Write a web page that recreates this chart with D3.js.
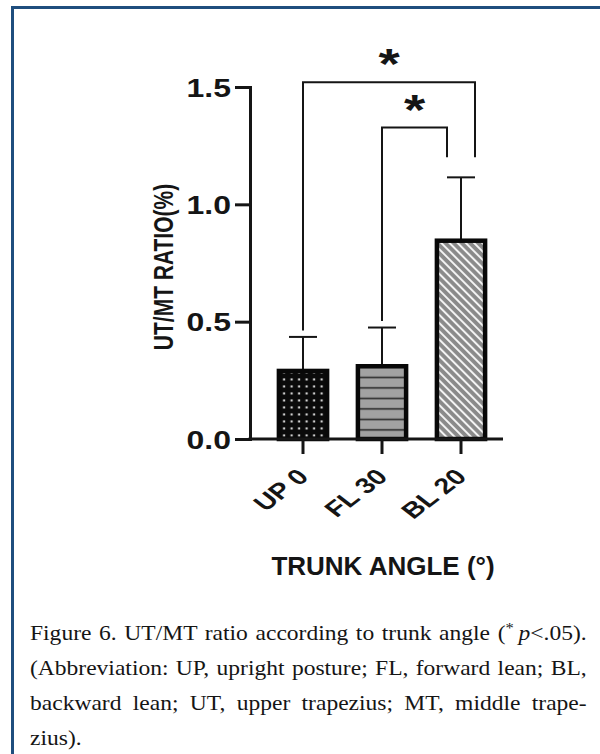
<!DOCTYPE html>
<html><head><meta charset="utf-8">
<script src="https://cdn.jsdelivr.net/npm/d3@7"></script>
<style>
body{margin:0;background:#fff;}
#wrap{position:relative;width:600px;height:754px;overflow:hidden;background:#fff;}
#chart{position:absolute;left:0;top:0;}
.cap{position:absolute;left:30px;font-family:"Liberation Serif","Times New Roman",serif;font-size:21px;color:#151515;transform-origin:0 0;transform:scaleX(1.12);width:497px;text-align:justify;text-align-last:justify;line-height:21px;white-space:nowrap;}
.cap.last{text-align-last:left;}
sup{font-size:0.7em;vertical-align:0.45em;line-height:0;}
</style></head><body>
<div id="wrap"><svg id="chart" width="600" height="754"></svg></div>
<script>
// ---- data ----
const categories = ["UP 0", "FL 30", "BL 20"];
const means = [0.29, 0.31, 0.845];
const sds = [0.145, 0.165, 0.27];
const yTicks = [0, 0.5, 1.0, 1.5];
const compareFrom = [0, 1];
const compareTo = [2, 2];
const compareLevel = [1.52, 1.327];
const compareLabel = ["*", "*"];
const yTitle = "UT/MT RATIO(%)";
const xTitle = "TRUNK ANGLE (°)";
const captionLines = [
  "Figure 6. UT/MT ratio according to trunk angle (<sup>*</sup>\u202f<i>p</i>&lt;.05).",
  "(Abbreviation: UP, upright posture; FL, forward lean; BL,",
  "backward lean; UT, upper trapezius; MT, middle trape-",
  "zius)."
];

// ---- chart ----
const svg = d3.select("#chart");
const ink = "#151515";
const sans = "'Liberation Sans', Arial, Helvetica, sans-serif";

// frame
svg.append("path").attr("d", "M12.5,760 V7.5 H610")
  .attr("fill", "none").attr("stroke", "#1f4e7e").attr("stroke-width", 3);

const y = d3.scaleLinear().domain([0, 1.5]).range([439, 87]);
const x = d3.scaleBand().domain(categories).range([263.5, 500.5])
  .paddingInner(0.39).paddingOuter(0.195);
const bw = x.bandwidth();
const cx = c => x(c) + bw / 2;

// patterns
const defs = svg.append("defs");
const p1 = defs.append("pattern").attr("id", "dots").attr("patternUnits", "userSpaceOnUse")
  .attr("width", 7.5).attr("height", 7).attr("x", x(categories[0]) + 1.5).attr("y", 376);
p1.append("rect").attr("width", 7.5).attr("height", 7).attr("fill", "#0a0a0a");
p1.append("rect").attr("x", 2.6).attr("y", 2.4).attr("width", 2.2).attr("height", 2.1).attr("fill", "#d0d0d0");

const p2 = defs.append("pattern").attr("id", "hlines").attr("patternUnits", "userSpaceOnUse")
  .attr("width", 10).attr("height", 10.5).attr("x", 0).attr("y", 372);
p2.append("rect").attr("width", 10).attr("height", 10.5).attr("fill", "#a2a2a2");
p2.append("rect").attr("y", 4.6).attr("width", 10).attr("height", 1.6).attr("fill", "#2a2a2a");

const p3 = defs.append("pattern").attr("id", "diag").attr("patternUnits", "userSpaceOnUse")
  .attr("width", 5.8).attr("height", 10).attr("patternTransform", "rotate(-45)");
p3.append("rect").attr("width", 5.8).attr("height", 10).attr("fill", "#8a8a8a");
p3.append("rect").attr("x", 0).attr("width", 2).attr("height", 10).attr("fill", "#f4f4f4");
const fills = ["url(#dots)", "url(#hlines)", "url(#diag)"];

// error bars
const eb = svg.append("g").attr("stroke", ink).attr("stroke-width", 2);
categories.forEach((c, i) => {
  eb.append("line").attr("x1", cx(c)).attr("x2", cx(c)).attr("y1", y(means[i])).attr("y2", y(means[i] + sds[i]));
  eb.append("line").attr("x1", cx(c) - 14).attr("x2", cx(c) + 14).attr("y1", y(means[i] + sds[i])).attr("y2", y(means[i] + sds[i]));
});

// bars
svg.append("g").selectAll("rect").data(categories).join("rect")
  .attr("x", d => x(d)).attr("width", bw)
  .attr("y", (d, i) => y(means[i])).attr("height", (d, i) => y(0) - y(means[i]))
  .attr("fill", (d, i) => fills[i]).attr("stroke", "#080808").attr("stroke-width", 4.5);

// y axis
const gy = svg.append("g").attr("transform", "translate(250,0)")
  .call(d3.axisLeft(y).tickValues(yTicks).tickFormat(d3.format(".1f")).tickSize(15).tickSizeOuter(0));
gy.select(".domain").attr("stroke", ink).attr("stroke-width", 3).attr("stroke-linecap", "square");
gy.selectAll(".tick line").attr("stroke", ink).attr("stroke-width", 3);
gy.selectAll(".tick text").attr("x", 0).attr("dy", "0.36em")
  .attr("transform", "translate(-19,0) scale(1.28,1)")
  .attr("font-family", sans).attr("font-weight", "bold").attr("font-size", 25).attr("fill", ink);

// x axis
const gx = svg.append("g").attr("transform", "translate(0,439)")
  .call(d3.axisBottom(x).tickSize(15).tickSizeOuter(0));
gx.select(".domain").attr("d", "M248.5,0H503").attr("stroke", ink).attr("stroke-width", 3);
gx.selectAll(".tick line").attr("stroke", ink).attr("stroke-width", 3);
gx.selectAll(".tick text").attr("x", 0).attr("y", 0).attr("dy", null)
  .attr("text-anchor", "end")
  .attr("transform", "translate(7,39) scale(1.3,1) rotate(-45)")
  .attr("font-family", sans).attr("font-weight", "bold").attr("font-size", 22).attr("fill", ink);

// titles
svg.append("text").attr("x", 383).attr("y", 575).attr("text-anchor", "middle")
  .attr("font-family", sans).attr("font-weight", "bold").attr("font-size", 26).attr("fill", ink)
  .text(xTitle);
svg.append("text").attr("transform", "translate(163,267) scale(1.3,1) rotate(-90)")
  .attr("text-anchor", "middle").attr("dy", "0.36em")
  .attr("font-family", sans).attr("font-weight", "bold").attr("font-size", 21).attr("fill", ink)
  .text(yTitle);

// significance brackets
const br = svg.append("g");
compareFrom.forEach((a, k) => {
  const b = compareTo[k];
  const xl = cx(categories[a]);
  const xr = cx(categories[b]) + (k === 0 ? 14 : -14);
  const yl = y(compareLevel[k]);
  const leftBottom = y(means[a] + sds[a]) - 6.5;
  const rightBottom = y(means[b] + sds[b]) - 20;
  br.append("path").attr("d", `M${xl},${leftBottom}V${yl}H${xr}V${rightBottom}`)
    .attr("fill", "none").attr("stroke", ink).attr("stroke-width", 2);
  br.append("text").attr("transform", `translate(${(xl + xr) / 2},${yl - 4}) scale(1.3,1)`)
    .attr("text-anchor", "middle")
    .attr("font-family", sans).attr("font-weight", "bold").attr("font-size", 42).attr("fill", ink)
    .text(compareLabel[k]);
});

// caption
const baselines = [640, 675, 710, 745];
const wrap = d3.select("#wrap");
captionLines.forEach((t, i) => {
  wrap.append("div").attr("class", "cap" + (i === captionLines.length - 1 ? " last" : ""))
    .style("top", (baselines[i] - 17.5) + "px").html(t);
});
</script>
</body></html>
